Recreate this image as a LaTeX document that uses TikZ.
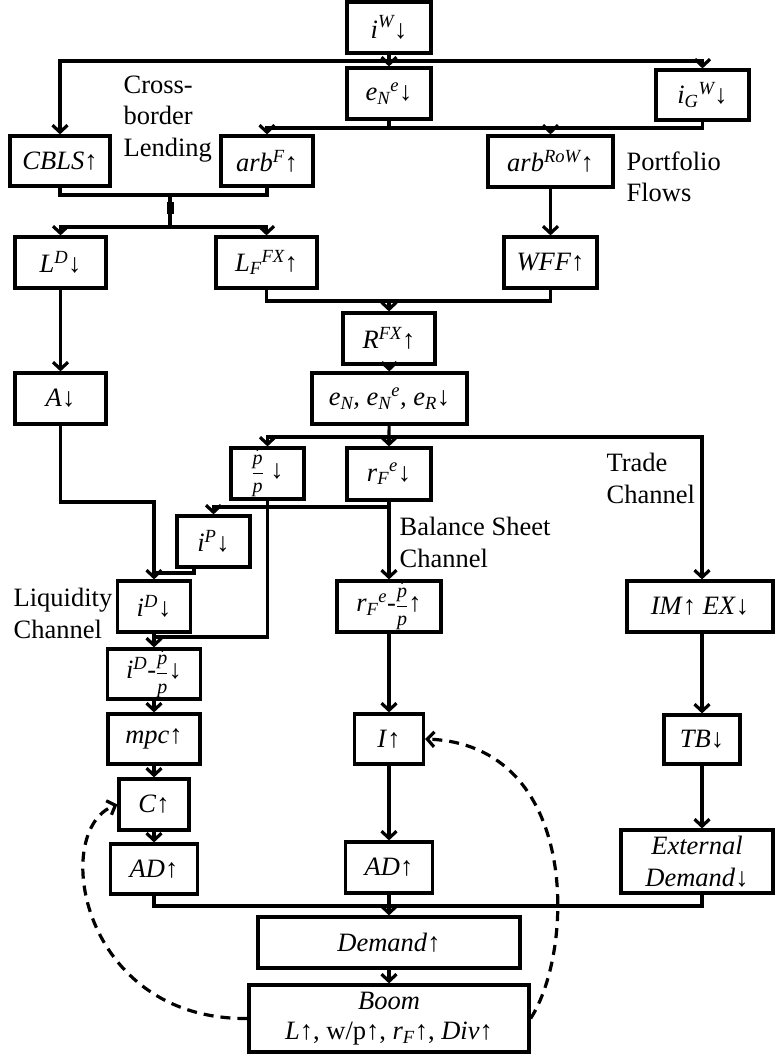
\documentclass[tikz,border=0pt]{standalone}
\usepackage{amsmath}
\usepackage{fontspec}
\setmainfont{Liberation Serif}
\usetikzlibrary{arrows.meta}
\newcommand{\ti}[1]{\textit{#1}}
\newcommand{\upar}{{\upshape ↑}}
\newcommand{\dnar}{{\upshape ↓}}
\newcommand{\pfrac}{{\fontsize{20}{20}\selectfont$\dfrac{\dot{\ti{p}}}{\ti{p}}$}}
\begin{document}
\begin{tikzpicture}[x=1pt,y=-1pt,line width=3.2pt,
  box/.style={draw,inner sep=0pt,align=center,font=\fontsize{26.5}{32}\selectfont},
  sz/.style 2 args={minimum width=#1pt,minimum height=#2pt},
  arr/.style={-{Straight Barb[length=7pt,width=15pt]}},
  dsh/.style={dash pattern=on 10pt off 7pt},
  lab/.style={align=left,inner sep=0pt,anchor=north west,font=\fontsize{26.5}{31.5}\selectfont}]
\useasboundingbox (0,0) rectangle (774,1057);
% boxes
\node[box,sz={84}{51}] (iW) at (389,27.5) {$\ti{i}^{\ti{W}}$\dnar};
\node[box,sz={84}{51}] (eNe) at (389,93.5) {$\ti{e}_{\ti{N}}{}^{\ti{e}}$\dnar};
\node[box,sz={93}{50}] (iGW) at (702.5,95) {$\ti{i}_{\ti{G}}{}^{\ti{W}}$\dnar};
\node[box,sz={100}{50}] (CBLS) at (60,161) {\ti{CBLS}\upar};
\node[box,sz={92}{50}] (arbF) at (267,161) {\ti{arb}$^{\ti{F}}$\upar};
\node[box,sz={125}{51}] (arbRoW) at (550.5,161.5) {\ti{arb}$^{\ti{RoW}}$\upar};
\node[box,sz={91}{51}] (LD) at (60.5,262.5) {\ti{L}$^{\ti{D}}$\dnar};
\node[box,sz={101}{51}] (LFFX) at (266.5,262.5) {$\ti{L}_{\ti{F}}{}^{\ti{FX}}$\upar};
\node[box,sz={93}{51}] (WFF) at (550.5,262.5) {\ti{WFF}\upar};
\node[box,sz={92}{51}] (RFX) at (389,338.5) {\ti{R}$^{\ti{FX}}$\upar};
\node[box,sz={155}{51}] (eN) at (389.5,398.5) {$\ti{e}_{\ti{N}}$\ti{,} $\ti{e}_{\ti{N}}{}^{\ti{e}}$\ti{,} $\ti{e}_{\ti{R}}$\dnar};
\node[box,sz={91}{51}] (A) at (60.5,398.5) {\ti{A}\dnar};
\node[box,sz={73}{51}] (pp) at (267.5,473.5) {\pfrac\ \dnar};
\node[box,sz={84}{52}] (rFe) at (389,474) {$\ti{r}_{\ti{F}}{}^{\ti{e}}$\dnar};
\node[box,sz={73}{51}] (iP) at (213.5,541.5) {\ti{i}$^{\ti{P}}$\dnar};
\node[box,sz={73}{51}] (iD) at (154,606.5) {\ti{i}$^{\ti{D}}$\dnar};
\node[box,sz={93}{50}] (iDpp) at (154,674) {\ti{i}$^{\ti{D}}$-\pfrac\dnar};
\node[box,sz={92}{50}] (mpc) at (154,739) {\ti{mpc}\upar};
\node[box,sz={70}{51}] (C) at (154,804.5) {\ti{C}\upar};
\node[box,sz={87}{50}] (ADl) at (154,869) {\ti{AD}\upar};
\node[box,sz={104}{51}] (rFepp) at (389,606.5) {$\ti{r}_{\ti{F}}{}^{\ti{e}}$-\pfrac\upar};
\node[box,sz={69}{50}] (I) at (389,739) {\ti{I}\upar};
\node[box,sz={87}{51}] (ADm) at (389,867.5) {\ti{AD}\upar};
\node[box,sz={146}{51}] (IMEX) at (700,606.5) {\ti{IM}\upar\ \ti{EX}\dnar};
\node[box,sz={76}{49}] (TB) at (702,739.5) {\ti{TB}\dnar};
\node[box,sz={152}{63}] (ExtD) at (697,861.5) {\ti{External}\\\ti{Demand}\dnar};
\node[box,sz={262}{51}] (Demand) at (389,942.5) {\ti{Demand}\upar};
\node[box,sz={280}{67},font=\fontsize{26.5}{30}\selectfont] (Boom) at (389,1018.5) {\ti{Boom}\\\ti{L}\upar, w/p\upar, $\ti{r}_{\ti{F}}$\upar, \ti{Div}\upar};
% labels
\node[lab] (lCBL) at (122,74) {Cross-\\border\\Lending};
\node[lab] (lPF) at (625,150) {Portfolio\\Flows};
\node[lab] (lTC) at (605,452) {Trade\\Channel};
\node[lab] (lBS) at (398,516) {Balance Sheet\\Channel};
\node[lab] (lLC) at (12,587) {Liquidity\\Channel};
% junctions
\coordinate (j1) at (389,61);
\coordinate (j2) at (389,128);
\coordinate (j3) at (170,195);
\coordinate (j4) at (170,227);
\coordinate (j5) at (389,301);
\coordinate (j6) at (389,437);
\coordinate (j7) at (389,507);
\coordinate (k1) at (154,502);
\coordinate (k2) at (154,637);
\coordinate (k3) at (154,573);
\coordinate (j8) at (389,906);
% connectors
\draw[arr] (iW) -- (eNe);
\draw[arr] (j1) -| (CBLS);
\draw[arr] (j1) -| (iGW);
\draw (eNe) -- (j2);
\draw (iGW) |- (j2);
\draw[arr] (j2) -| (arbF);
\draw[arr] (j2) -| (arbRoW);
\draw (CBLS) |- (j3);
\draw (arbF) |- (j3);
\draw (j3) -- (j4);
\fill (166.5,202) rectangle (173.5,214);
\draw[arr] (j4) -| (LD);
\draw[arr] (j4) -| (LFFX);
\draw[arr] (arbRoW) -- (WFF);
\draw (LFFX) |- (j5);
\draw (WFF) |- (j5);
\draw[arr] (j5) -- (RFX);
\draw[arr] (RFX) -- (eN);
\draw[arr] (LD) -- (A);
\draw (eN) -- (j6);
\draw[arr] (j6) -- (rFe);
\draw[arr] (j6) -| (pp);
\draw[arr] (j6) -| ([xshift=2pt]IMEX.north);
\draw[arr] (A) |- (k1) -- (iD);
\draw[arr] (rFe) -- (rFepp);
\draw[arr] (j7) -| (iP);
\draw ([xshift=-19.5pt]iP.south) |- (k3);
\draw[arr] (pp) |- (k2) -- (iDpp);
\draw (iD) -- (k2);
\draw[arr] (iDpp) -- (mpc);
\draw[arr] (mpc) -- (C);
\draw[arr] (C) -- (ADl);
\draw[arr] (rFepp) -- (I);
\draw[arr] (I) -- (ADm);
\draw[arr] (TB.north |- IMEX.south) -- (TB);
\draw[arr] (TB) -- (TB.south |- ExtD.north);
\draw (ADl) |- (j8);
\draw (TB |- ExtD.south) |- (j8);
\draw[arr] (ADm) -- (Demand);
\draw[arr] (Demand) -- (Boom);
\draw[arr,dsh] (Boom.west) .. controls (80,1020) and (50,830) .. (C.west);
\draw[arr,dsh] (Boom.east) .. controls (575,950) and (580,745) .. (I.east);
\end{tikzpicture}
\end{document}
